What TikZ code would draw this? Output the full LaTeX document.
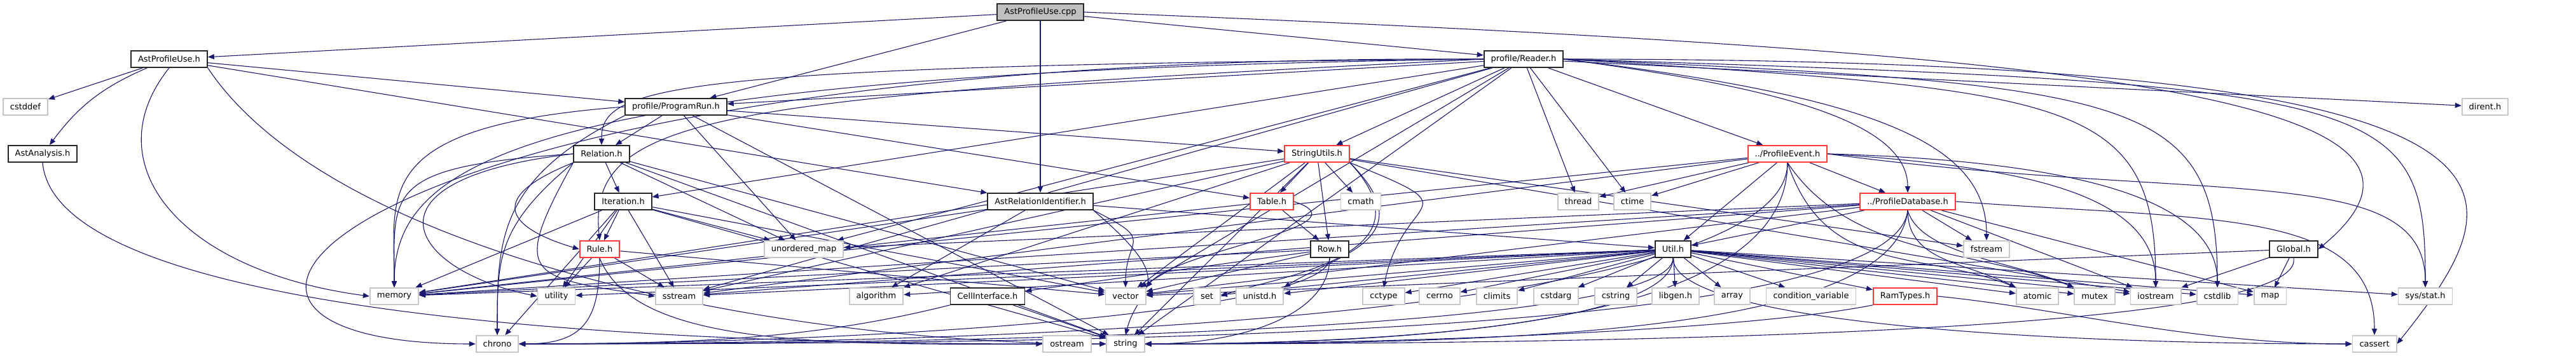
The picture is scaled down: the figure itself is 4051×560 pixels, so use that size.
\documentclass[tikz,border=0pt]{standalone}
\usepackage{fontspec}
\setmainfont{DejaVu Sans}
\usetikzlibrary{arrows.meta}
\definecolor{edgeblue}{HTML}{191970}
\definecolor{sysgray}{HTML}{C8C8C8}
\definecolor{mainfill}{HTML}{BFBFBF}
\definecolor{cutred}{HTML}{FF3B3B}
\pgfdeclarelayer{background}
\pgfsetlayers{background,main}
\tikzset{
  filebox/.style = {rectangle, draw=black!85, line width=0.9pt, fill=white, minimum height=13pt,
                    inner xsep=5.5pt, inner ysep=0pt, font=\fontsize{6.5}{7}\selectfont},
  sysbox/.style  = {filebox, draw=sysgray},
  cutbox/.style  = {filebox, draw=cutred},
  mainbox/.style = {filebox, fill=mainfill},
  dep/.style     = {-{Triangle[length=5pt,width=4pt]}, line width=0.55pt, draw=edgeblue}
}

\begin{document}
\begin{tikzpicture}[x=0.5pt, y=-0.5pt]
  \useasboundingbox (0,0) rectangle (4051,560);
  % row 1 and 2
  \node[mainbox] (cpp) at (1636,19) {AstProfileUse.cpp};
  \node[filebox] (apuh) at (266,93) {AstProfileUse.h};
  \node[filebox] (reader) at (2396,93) {profile/Reader.h};
  % row 3
  \node[sysbox] (cstddef) at (40,168) {cstddef};
  \node[filebox] (progrun) at (1063,168) {profile/ProgramRun.h};
  \node[sysbox] (dirent) at (3908,168) {dirent.h};
  % row 4
  \node[filebox] (analysis) at (67,242) {AstAnalysis.h};
  \node[filebox] (relation) at (946,242) {Relation.h};
  \node[cutbox] (strutils) at (2071,242) {StringUtils.h};
  \node[cutbox] (pevent) at (2811,242) {../ProfileEvent.h};
  % row 5
  \node[filebox] (iteration) at (980,317) {Iteration.h};
  \node[filebox] (astrelid) at (1636,317) {AstRelationIdentifier.h};
  \node[cutbox] (table) at (2000,317) {Table.h};
  \node[sysbox] (cmath) at (2140,317) {cmath};
  \node[sysbox] (thread) at (2482,317) {thread};
  \node[sysbox] (ctime) at (2567,317) {ctime};
  \node[cutbox] (pdb) at (3000,317) {../ProfileDatabase.h};
  % row 6
  \node[cutbox] (rule) at (943,392) {Rule.h};
  \node[sysbox] (umap) at (1264,392) {unordered\_map};
  \node[filebox] (row) at (2091,392) {Row.h};
  \node[filebox] (util) at (2631,392) {Util.h};
  \node[sysbox] (fstream) at (3124,392) {fstream};
  \node[filebox] (global) at (3607,392) {Global.h};
  % row 7
  \node[sysbox] (memory) at (620,466) {memory};
  \node[sysbox] (utility) at (875,466) {utility};
  \node[sysbox] (sstream) at (1068,466) {sstream};
  \node[sysbox] (algorithm) at (1378,466) {algorithm};
  \node[filebox] (cellif) at (1553,466) {CellInterface.h};
  \node[sysbox] (vector) at (1770,466) {vector};
  \node[sysbox] (set) at (1898,466) {set};
  \node[sysbox] (unistd) at (1981,466) {unistd.h};
  \node[sysbox] (cctype) at (2176,466) {cctype};
  \node[sysbox] (cerrno) at (2264,466) {cerrno};
  \node[sysbox] (climits) at (2354,466) {climits};
  \node[sysbox] (cstdarg) at (2447,466) {cstdarg};
  \node[sysbox] (cstring) at (2541,466) {cstring};
  \node[sysbox] (libgen) at (2635,466) {libgen.h};
  \node[sysbox] (array) at (2724,466) {array};
  \node[sysbox] (condvar) at (2848,466) {condition\_variable};
  \node[cutbox] (ramtypes) at (2996,466) {RamTypes.h};
  \node[sysbox] (atomic) at (3204,466) {atomic};
  \node[sysbox] (mutex) at (3294,466) {mutex};
  \node[sysbox] (iostream) at (3390,466) {iostream};
  \node[sysbox] (cstdlib) at (3487,466) {cstdlib};
  \node[sysbox] (map) at (3570,466) {map};
  \node[sysbox] (sysstat) at (3814,466) {sys/stat.h};
  % row 8
  \node[sysbox] (chrono) at (782,541) {chrono};
  \node[sysbox] (ostream) at (1678,541) {ostream};
  \node[sysbox] (string) at (1770,541) {string};
  \node[sysbox] (cassert) at (3734,541) {cassert};

  \begin{pgfonlayer}{background}
  % AstProfileUse.cpp
  \draw[dep] (cpp) -- (apuh);
  \draw[dep] (cpp) -- (progrun);
  \draw[dep] (cpp) -- (astrelid);
  \draw[dep] (cpp) -- (reader);
  \draw[dep] (cpp.east) .. controls +(1500,60) and +(300,-250) .. (global.east);
  % AstProfileUse.h
  \draw[dep] (apuh) -- (cstddef);
  \draw[dep] (apuh) to[bend right=15] (analysis);
  \draw[dep] (apuh.south) .. controls +(-120,150) and +(-300,-40) .. (memory.west);
  \draw[dep] (apuh) -- (progrun);
  \draw[dep] (apuh) -- (astrelid);
  \draw[dep] (apuh.south east) .. controls +(200,300) and +(-500,0) .. (string.west);
  % AstAnalysis.h
  \draw[dep] (analysis.south) .. controls +(20,230) and +(-700,0) .. (ostream.west);
  % profile/Reader.h
  \draw[dep] (reader) -- (progrun);
  \draw[dep] (reader.west) .. controls +(-1300,10) and +(0,-90) .. (relation.north);
  \draw[dep] (reader) -- (iteration);
  \draw[dep] (reader.west) .. controls +(-1200,60) and +(-20,-200) .. (rule.north);
  \draw[dep] (reader) -- (strutils);
  \draw[dep] (reader) -- (pevent);
  \draw[dep] (reader.east) .. controls +(300,40) and +(0,-120) .. (pdb.north);
  \draw[dep] (reader) -- (thread);
  \draw[dep] (reader) -- (ctime);
  \draw[dep] (reader.east) .. controls +(500,60) and +(0,-150) .. (fstream.north);
  \draw[dep] (reader) -- (dirent);
  \draw[dep] (reader.east) .. controls +(1300,40) and +(0,-300) .. (sysstat.north);
  \draw[dep] (reader.east) .. controls +(1600,0) and +(200,-250) .. (cassert.east);
  \draw[dep] (reader.east) .. controls +(800,50) and +(0,-300) .. (iostream.north);
  \draw[dep] (reader.east) .. controls +(900,40) and +(0,-300) .. (cstdlib.north);
  \draw[dep] (reader.west) .. controls +(-1500,20) and +(0,-200) .. (memory.north);
  \draw[dep] (reader.west) .. controls +(-1800,-10) and +(-600,0) .. (chrono.west);
  \draw[dep] (reader) -- (sstream);
  \draw[dep] (reader) -- (string);
  \draw[dep] (reader) -- (umap);
  \draw[dep] (reader) -- (vector);
  % profile/ProgramRun.h
  \draw[dep] (progrun) -- (relation);
  \draw[dep] (progrun) -- (strutils);
  \draw[dep] (progrun) -- (table);
  \draw[dep] (progrun) -- (umap);
  \draw[dep] (progrun) -- (string);
  \draw[dep] (progrun.west) .. controls +(-400,30) and +(0,-150) .. (memory.north);
  \draw[dep] (progrun.south west) .. controls +(-200,100) and +(0,-150) .. (chrono.north);
  % Relation.h
  \draw[dep] (relation) -- (iteration);
  \draw[dep] (relation.south west) .. controls +(-150,60) and +(-100,-30) .. (rule.west);
  \draw[dep] (relation) -- (umap);
  \draw[dep] (relation.west) .. controls +(-300,20) and +(0,-150) .. (memory.north);
  \draw[dep] (relation.west) .. controls +(-350,40) and +(-200,-40) .. (utility.west);
  \draw[dep] (relation.south west) .. controls +(-120,100) and +(0,-120) .. (chrono.north);
  \draw[dep] (relation.south west) .. controls +(-100,180) and +(-200,-30) .. (sstream.west);
  \draw[dep] (relation) -- (string);
  \draw[dep] (relation) -- (vector);
  % Iteration.h
  \draw[dep] (iteration) -- (rule);
  \draw[dep] (iteration) -- (umap);
  \draw[dep] (iteration) -- (memory);
  \draw[dep] (iteration) -- (utility);
  \draw[dep] (iteration) -- (chrono);
  \draw[dep] (iteration) -- (sstream);
  \draw[dep] (iteration) -- (string);
  \draw[dep] (iteration) -- (vector);
  % Rule.h
  \draw[dep] (rule) -- (utility);
  \draw[dep] (rule) -- (sstream);
  \draw[dep] (rule.south) .. controls +(0,100) and +(100,0) .. (chrono.east);
  \draw[dep] (rule.south) .. controls +(60,150) and +(-400,0) .. (string.west);
  \draw[dep] (rule) -- (vector);
  % AstRelationIdentifier.h
  \draw[dep] (astrelid) -- (algorithm);
  \draw[dep] (astrelid.south east) .. controls +(100,50) and +(0,-80) .. (vector.north);
  \draw[dep] (astrelid.south east) .. controls +(140,120) and +(20,-80) .. (string.north);
  \draw[dep] (astrelid) -- (util);
  \draw[dep] (astrelid) -- (memory);
  % StringUtils.h
  \draw[dep] (strutils) -- (table);
  \draw[dep] (strutils) -- (cmath);
  \draw[dep] (strutils) -- (row);
  \draw[dep] (strutils.south east) .. controls +(200,80) and +(30,-150) .. (cctype.north);
  \draw[dep] (strutils.south east) .. controls +(120,120) and +(80,-50) .. (unistd.north east);
  \draw[dep] (strutils.south east) .. controls +(140,150) and +(80,-30) .. (set.east);
  \draw[dep] (strutils) -- (sstream);
  \draw[dep] (strutils) -- (algorithm);
  \draw[dep] (strutils) -- (memory);
  \draw[dep] (strutils) -- (string);
  \draw[dep] (strutils) -- (vector);
  \draw[dep] (strutils) -- (fstream);
  \draw[dep] (strutils) -- (iostream);
  % Table.h
  \draw[dep] (table) -- (row);
  \draw[dep] (table.east) .. controls +(120,40) and +(50,-60) .. (vector.north east);
  \draw[dep] (table) -- (memory);
  % Row.h
  \draw[dep] (row) -- (cellif);
  \draw[dep] (row.south) .. controls +(0,90) and +(500,0) .. (chrono.east);
  \draw[dep] (row) -- (memory);
  \draw[dep] (row.south) .. controls +(0,90) and +(150,0) .. (string.east);
  \draw[dep] (row) -- (vector);
  % CellInterface.h
  \draw[dep] (cellif.south west) .. controls +(-200,50) and +(300,0) .. (chrono.east);
  \draw[dep] (cellif) -- (string);
  % ../ProfileEvent.h
  \draw[dep] (pevent) -- (pdb);
  \draw[dep] (pevent) -- (util);
  \draw[dep] (pevent) -- (ctime);
  \draw[dep] (pevent) -- (thread);
  \draw[dep] (pevent.south) .. controls +(60,180) and +(-150,-60) .. (atomic.north west);
  \draw[dep] (pevent.south) .. controls +(100,150) and +(-150,-60) .. (mutex.north west);
  \draw[dep] (pevent.east) .. controls +(300,20) and +(0,-150) .. (iostream.north);
  \draw[dep] (pevent.east) .. controls +(350,10) and +(0,-150) .. (cstdlib.north);
  \draw[dep] (pevent) -- (sstream);
  \draw[dep] (pevent) -- (memory);
  \draw[dep] (pevent.south) .. controls +(0,250) and +(700,0) .. (chrono.east);
  \draw[dep] (pevent.south) .. controls +(0,240) and +(500,0) .. (string.east);
  \draw[dep] (pevent.east) .. controls +(600,80) and +(0,-200) .. (sysstat.north);
  % ../ProfileDatabase.h
  \draw[dep] (pdb) -- (util);
  \draw[dep] (pdb) -- (fstream);
  \draw[dep] (pdb.south) .. controls +(0,80) and +(-80,-40) .. (atomic.north west);
  \draw[dep] (pdb.south) .. controls +(20,70) and +(-90,-40) .. (mutex.north west);
  \draw[dep] (pdb) -- (map);
  \draw[dep] (pdb) -- (iostream);
  \draw[dep] (pdb.east) .. controls +(400,30) and +(0,-200) .. (cassert.north);
  \draw[dep] (pdb) -- (umap);
  \draw[dep] (pdb) -- (sstream);
  \draw[dep] (pdb) -- (memory);
  \draw[dep] (pdb.south) .. controls +(-20,200) and +(900,0) .. (chrono.east);
  \draw[dep] (pdb.south) .. controls +(-20,190) and +(600,0) .. (string.east);
  \draw[dep] (pdb) -- (vector);
  % Util.h
  \draw[dep] (util) -- (ramtypes);
  \draw[dep] (util) -- (libgen);
  \draw[dep] (util) -- (array);
  \draw[dep] (util) -- (condvar);
  \draw[dep] (util) -- (cstring);
  \draw[dep] (util) -- (cstdarg);
  \draw[dep] (util) -- (climits);
  \draw[dep] (util) -- (cerrno);
  \draw[dep] (util) -- (cctype);
  \draw[dep] (util) -- (unistd);
  \draw[dep] (util) -- (set);
  \draw[dep] (util) -- (vector);
  \draw[dep] (util) -- (algorithm);
  \draw[dep] (util) -- (sstream);
  \draw[dep] (util) -- (utility);
  \draw[dep] (util) -- (memory);
  \draw[dep] (util.south) .. controls +(0,110) and +(800,0) .. (chrono.east);
  \draw[dep] (util.south) .. controls +(0,100) and +(400,0) .. (string.east);
  \draw[dep] (util) -- (atomic);
  \draw[dep] (util) -- (mutex);
  \draw[dep] (util) -- (iostream);
  \draw[dep] (util) -- (cstdlib);
  \draw[dep] (util) -- (map);
  \draw[dep] (util) -- (sysstat);
  \draw[dep] (util.south) .. controls +(0,100) and +(-500,0) .. (cassert.west);
  % RamTypes.h
  \draw[dep] (ramtypes.south west) .. controls +(-200,40) and +(400,0) .. (string.east);
  \draw[dep] (ramtypes.east) .. controls +(200,20) and +(-250,0) .. (cassert.west);
  % Global.h
  \draw[dep] (global) -- (iostream);
  \draw[dep] (global) -- (map);
  \draw[dep] (global.south) .. controls +(20,120) and +(700,0) .. (string.east);
  \draw[dep] (global) -- (vector);
  \end{pgfonlayer}
\end{tikzpicture}
\end{document}
